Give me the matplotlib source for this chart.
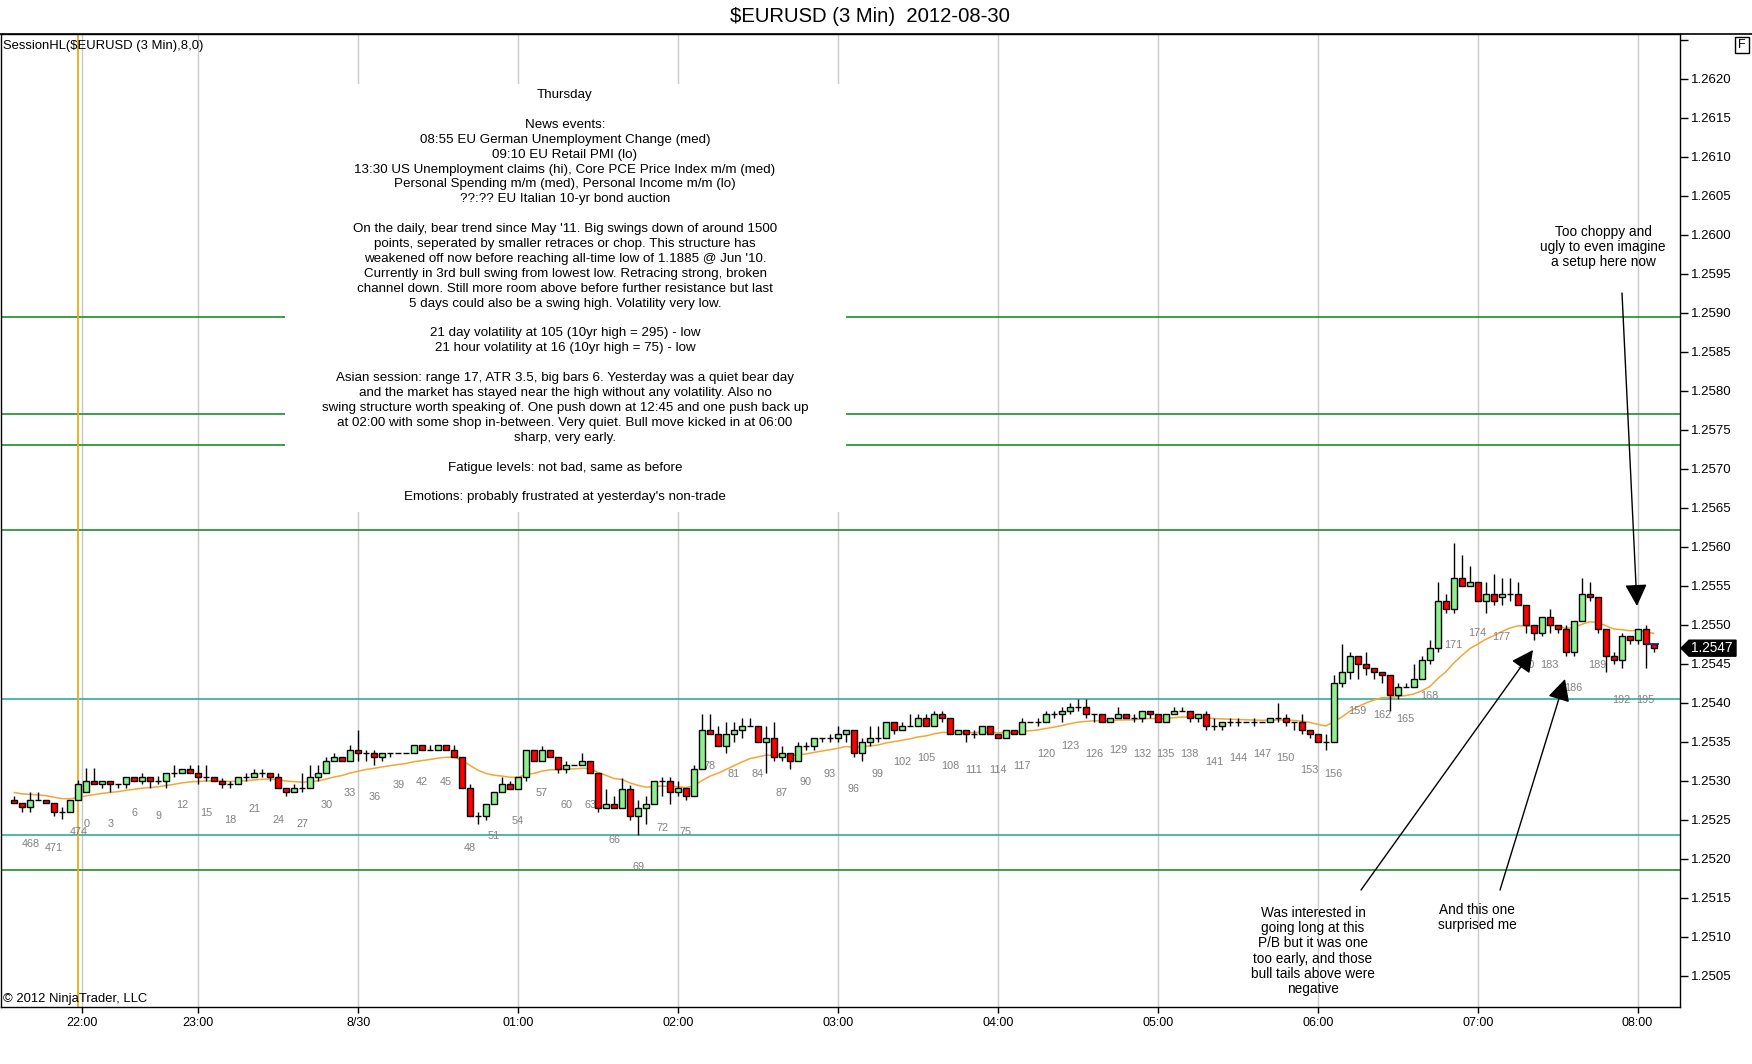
import numpy as np
import matplotlib
matplotlib.use("Agg")
import matplotlib.pyplot as plt
from matplotlib.patches import Rectangle, Polygon, FancyArrowPatch
from matplotlib.lines import Line2D
from matplotlib.transforms import IdentityTransform

plt.rcParams['font.family'] = ['Liberation Sans', 'DejaVu Sans']

# ---------------- data ----------------
bar_numbers = list(range(466, 475)) + list(range(0, 197))

open_ = [
    1.25276, 1.25271, 1.25266, 1.25276, 1.25276, 1.25271, 1.25260, 1.25260, 1.25276, 1.25286,
    1.25300, 1.25296, 1.25300, 1.25296, 1.25296, 1.25305, 1.25300, 1.25305, 1.25300, 1.25300,
    1.25310, 1.25310, 1.25315, 1.25310, 1.25305, 1.25305, 1.25300, 1.25296, 1.25296, 1.25305,
    1.25305, 1.25310, 1.25310, 1.25305, 1.25291, 1.25286, 1.25291, 1.25291, 1.25305, 1.25310,
    1.25325, 1.25330, 1.25325, 1.25340, 1.25335, 1.25335, 1.25330, 1.25335, 1.25335, 1.25335,
    1.25335, 1.25346, 1.25340, 1.25340, 1.25346, 1.25340, 1.25330, 1.25291, 1.25255, 1.25255,
    1.25270, 1.25286, 1.25296, 1.25290, 1.25305, 1.25340, 1.25325, 1.25340, 1.25330, 1.25315,
    1.25320, 1.25320, 1.25325, 1.25310, 1.25265, 1.25270, 1.25265, 1.25290, 1.25255, 1.25265,
    1.25270, 1.25300, 1.25300, 1.25286, 1.25291, 1.25280, 1.25315, 1.25365, 1.25360, 1.25345,
    1.25360, 1.25365, 1.25370, 1.25370, 1.25350, 1.25355, 1.25330, 1.25335, 1.25325, 1.25345,
    1.25345, 1.25355, 1.25355, 1.25355, 1.25360, 1.25365, 1.25335, 1.25350, 1.25355, 1.25355,
    1.25375, 1.25365, 1.25370, 1.25370, 1.25380, 1.25370, 1.25385, 1.25380, 1.25360, 1.25365,
    1.25360, 1.25360, 1.25370, 1.25360, 1.25355, 1.25365, 1.25360, 1.25375, 1.25375, 1.25375,
    1.25385, 1.25385, 1.25390, 1.25395, 1.25395, 1.25385, 1.25385, 1.25375, 1.25380, 1.25385,
    1.25380, 1.25380, 1.25390, 1.25385, 1.25375, 1.25385, 1.25390, 1.25390, 1.25380, 1.25385,
    1.25370, 1.25370, 1.25375, 1.25375, 1.25375, 1.25375, 1.25375, 1.25375, 1.25380, 1.25380,
    1.25375, 1.25375, 1.25365, 1.25360, 1.25350, 1.25350, 1.25425, 1.25440, 1.25460, 1.25450,
    1.25445, 1.25440, 1.25435, 1.25410, 1.25420, 1.25420, 1.25430, 1.25455, 1.25470, 1.25530,
    1.25520, 1.25560, 1.25550, 1.25555, 1.25530, 1.25540, 1.25535, 1.25540, 1.25540, 1.25525,
    1.25500, 1.25490, 1.25510, 1.25500, 1.25495, 1.25465, 1.25505, 1.25540, 1.25535, 1.25495,
    1.25460, 1.25455, 1.25485, 1.25480, 1.25495, 1.25475,
]
high = [
    1.25281, 1.25271, 1.25286, 1.25286, 1.25276, 1.25271, 1.25266, 1.25276, 1.25301, 1.25316,
    1.25316, 1.25300, 1.25300, 1.25296, 1.25305, 1.25305, 1.25310, 1.25305, 1.25306, 1.25310,
    1.25320, 1.25315, 1.25320, 1.25320, 1.25320, 1.25305, 1.25304, 1.25300, 1.25305, 1.25310,
    1.25315, 1.25315, 1.25310, 1.25310, 1.25291, 1.25296, 1.25310, 1.25320, 1.25320, 1.25330,
    1.25336, 1.25330, 1.25346, 1.25365, 1.25340, 1.25340, 1.25335, 1.25335, 1.25335, 1.25335,
    1.25346, 1.25346, 1.25346, 1.25346, 1.25346, 1.25346, 1.25330, 1.25296, 1.25260, 1.25270,
    1.25286, 1.25305, 1.25300, 1.25305, 1.25340, 1.25340, 1.25345, 1.25340, 1.25330, 1.25325,
    1.25320, 1.25336, 1.25325, 1.25310, 1.25290, 1.25280, 1.25304, 1.25295, 1.25275, 1.25280,
    1.25300, 1.25305, 1.25305, 1.25300, 1.25291, 1.25320, 1.25385, 1.25385, 1.25370, 1.25375,
    1.25375, 1.25380, 1.25380, 1.25370, 1.25370, 1.25375, 1.25345, 1.25335, 1.25350, 1.25350,
    1.25355, 1.25355, 1.25360, 1.25370, 1.25365, 1.25365, 1.25355, 1.25370, 1.25370, 1.25375,
    1.25375, 1.25375, 1.25385, 1.25385, 1.25385, 1.25390, 1.25390, 1.25380, 1.25365, 1.25365,
    1.25365, 1.25370, 1.25370, 1.25360, 1.25365, 1.25365, 1.25380, 1.25375, 1.25380, 1.25390,
    1.25390, 1.25395, 1.25400, 1.25405, 1.25405, 1.25385, 1.25385, 1.25380, 1.25395, 1.25385,
    1.25385, 1.25390, 1.25390, 1.25385, 1.25385, 1.25395, 1.25395, 1.25390, 1.25385, 1.25390,
    1.25380, 1.25375, 1.25380, 1.25380, 1.25375, 1.25380, 1.25375, 1.25380, 1.25400, 1.25385,
    1.25375, 1.25385, 1.25365, 1.25360, 1.25360, 1.25435, 1.25475, 1.25465, 1.25460, 1.25465,
    1.25445, 1.25440, 1.25435, 1.25425, 1.25425, 1.25450, 1.25460, 1.25480, 1.25555, 1.25540,
    1.25605, 1.25590, 1.25575, 1.25555, 1.25555, 1.25565, 1.25560, 1.25560, 1.25555, 1.25525,
    1.25500, 1.25510, 1.25520, 1.25500, 1.25500, 1.25505, 1.25560, 1.25555, 1.25535, 1.25495,
    1.25465, 1.25490, 1.25485, 1.25495, 1.25500, 1.25475,
]
low = [
    1.25271, 1.25260, 1.25260, 1.25275, 1.25271, 1.25255, 1.25251, 1.25260, 1.25276, 1.25286,
    1.25296, 1.25291, 1.25285, 1.25291, 1.25291, 1.25300, 1.25296, 1.25291, 1.25296, 1.25291,
    1.25305, 1.25310, 1.25310, 1.25296, 1.25300, 1.25300, 1.25291, 1.25291, 1.25296, 1.25300,
    1.25305, 1.25305, 1.25300, 1.25291, 1.25280, 1.25286, 1.25286, 1.25291, 1.25300, 1.25310,
    1.25325, 1.25325, 1.25325, 1.25325, 1.25325, 1.25320, 1.25325, 1.25330, 1.25335, 1.25335,
    1.25335, 1.25340, 1.25340, 1.25340, 1.25340, 1.25330, 1.25291, 1.25255, 1.25245, 1.25250,
    1.25270, 1.25286, 1.25290, 1.25290, 1.25300, 1.25325, 1.25325, 1.25330, 1.25310, 1.25310,
    1.25320, 1.25320, 1.25310, 1.25260, 1.25265, 1.25265, 1.25265, 1.25250, 1.25231, 1.25245,
    1.25270, 1.25280, 1.25270, 1.25280, 1.25275, 1.25280, 1.25315, 1.25360, 1.25345, 1.25335,
    1.25350, 1.25355, 1.25370, 1.25350, 1.25310, 1.25325, 1.25325, 1.25315, 1.25325, 1.25340,
    1.25340, 1.25350, 1.25350, 1.25350, 1.25350, 1.25330, 1.25325, 1.25345, 1.25350, 1.25355,
    1.25360, 1.25365, 1.25370, 1.25370, 1.25370, 1.25370, 1.25375, 1.25360, 1.25360, 1.25350,
    1.25355, 1.25360, 1.25360, 1.25355, 1.25355, 1.25360, 1.25360, 1.25375, 1.25370, 1.25375,
    1.25380, 1.25375, 1.25385, 1.25390, 1.25380, 1.25375, 1.25375, 1.25375, 1.25380, 1.25380,
    1.25375, 1.25375, 1.25380, 1.25375, 1.25375, 1.25385, 1.25390, 1.25375, 1.25375, 1.25365,
    1.25365, 1.25365, 1.25370, 1.25370, 1.25375, 1.25370, 1.25375, 1.25375, 1.25375, 1.25370,
    1.25365, 1.25360, 1.25355, 1.25350, 1.25340, 1.25350, 1.25420, 1.25430, 1.25430, 1.25435,
    1.25430, 1.25425, 1.25390, 1.25405, 1.25420, 1.25420, 1.25430, 1.25450, 1.25465, 1.25515,
    1.25515, 1.25550, 1.25550, 1.25530, 1.25515, 1.25525, 1.25525, 1.25530, 1.25525, 1.25490,
    1.25480, 1.25485, 1.25490, 1.25490, 1.25460, 1.25460, 1.25505, 1.25530, 1.25490, 1.25440,
    1.25450, 1.25445, 1.25475, 1.25475, 1.25445, 1.25465,
]
close = [
    1.25271, 1.25266, 1.25276, 1.25276, 1.25271, 1.25260, 1.25260, 1.25276, 1.25296, 1.25300,
    1.25296, 1.25300, 1.25296, 1.25296, 1.25305, 1.25300, 1.25305, 1.25300, 1.25300, 1.25310,
    1.25310, 1.25315, 1.25310, 1.25305, 1.25305, 1.25300, 1.25296, 1.25296, 1.25305, 1.25305,
    1.25310, 1.25310, 1.25305, 1.25291, 1.25286, 1.25291, 1.25291, 1.25305, 1.25310, 1.25325,
    1.25330, 1.25325, 1.25340, 1.25335, 1.25335, 1.25330, 1.25335, 1.25335, 1.25335, 1.25335,
    1.25346, 1.25340, 1.25340, 1.25346, 1.25340, 1.25330, 1.25291, 1.25255, 1.25255, 1.25270,
    1.25286, 1.25296, 1.25290, 1.25305, 1.25340, 1.25325, 1.25340, 1.25330, 1.25315, 1.25320,
    1.25320, 1.25325, 1.25310, 1.25265, 1.25270, 1.25265, 1.25290, 1.25255, 1.25265, 1.25270,
    1.25300, 1.25300, 1.25286, 1.25291, 1.25280, 1.25315, 1.25365, 1.25360, 1.25345, 1.25360,
    1.25365, 1.25370, 1.25370, 1.25350, 1.25355, 1.25330, 1.25335, 1.25325, 1.25345, 1.25345,
    1.25355, 1.25355, 1.25355, 1.25360, 1.25365, 1.25335, 1.25350, 1.25355, 1.25355, 1.25375,
    1.25365, 1.25370, 1.25370, 1.25380, 1.25370, 1.25385, 1.25380, 1.25360, 1.25365, 1.25360,
    1.25360, 1.25370, 1.25360, 1.25355, 1.25365, 1.25360, 1.25375, 1.25375, 1.25375, 1.25385,
    1.25385, 1.25390, 1.25395, 1.25395, 1.25385, 1.25385, 1.25375, 1.25380, 1.25385, 1.25380,
    1.25380, 1.25390, 1.25385, 1.25375, 1.25385, 1.25390, 1.25390, 1.25380, 1.25385, 1.25370,
    1.25370, 1.25375, 1.25375, 1.25375, 1.25375, 1.25375, 1.25375, 1.25380, 1.25380, 1.25375,
    1.25375, 1.25365, 1.25360, 1.25350, 1.25350, 1.25425, 1.25440, 1.25460, 1.25450, 1.25445,
    1.25440, 1.25435, 1.25410, 1.25420, 1.25420, 1.25430, 1.25455, 1.25470, 1.25530, 1.25520,
    1.25560, 1.25550, 1.25555, 1.25530, 1.25540, 1.25530, 1.25540, 1.25540, 1.25525, 1.25500,
    1.25490, 1.25510, 1.25500, 1.25495, 1.25465, 1.25505, 1.25540, 1.25535, 1.25495, 1.25460,
    1.25455, 1.25485, 1.25480, 1.25495, 1.25475, 1.25470,
]

ema_period = 20
ema_seed = 1.25285

green_levels = [1.25894, 1.25770, 1.25730, 1.25621, 1.25185]
teal_levels = [1.25405, 1.25230]

time_tick_bars = [-0.5, 14, 34, 54, 74, 94, 114, 134, 154, 174, 194]
time_tick_labels = ["22:00", "23:00", "8/30", "01:00", "02:00", "03:00",
                    "04:00", "05:00", "06:00", "07:00", "08:00"]
session_break_bar = -1
price_ticks = [1.2505 + 0.0005 * k for k in range(24)]

title = "$EURUSD (3 Min)  2012-08-30"
indicator_label = "SessionHL($EURUSD (3 Min),8,0)"
copyright_text = "\u00a9 2012 NinjaTrader, LLC"

notes = [
    "Thursday",
    "",
    "News events:",
    "08:55 EU German Unemployment Change (med)",
    "09:10 EU Retail PMI (lo)",
    "13:30 US Unemployment claims (hi), Core PCE Price Index m/m (med)",
    "Personal Spending m/m (med), Personal Income m/m (lo)",
    "??:?? EU Italian 10-yr bond auction",
    "",
    "On the daily, bear trend since May '11. Big swings down of around 1500",
    "points, seperated by smaller retraces or chop. This structure has",
    "weakened off now before reaching all-time low of 1.1885 @ Jun '10.",
    "Currently in 3rd bull swing from lowest low. Retracing strong, broken",
    "channel down. Still more room above before further resistance but last",
    "5 days could also be a swing high. Volatility very low.",
    "",
    "21 day volatility at 105 (10yr high = 295) - low",
    "21 hour volatility at 16 (10yr high = 75) - low",
    "",
    "Asian session: range 17, ATR 3.5, big bars 6. Yesterday was a quiet bear day",
    "and the market has stayed near the high without any volatility. Also no",
    "swing structure worth speaking of. One push down at 12:45 and one push back up",
    "at 02:00 with some shop in-between. Very quiet. Bull move kicked in at 06:00",
    "sharp, very early.",
    "",
    "Fatigue levels: not bad, same as before",
    "",
    "Emotions: probably frustrated at yesterday's non-trade",
]
note_choppy = ["Too choppy and", "ugly to even imagine", "a setup here now"]
note_interested = ["Was interested in", "going long at this", "P/B but it was one",
                   "too early, and those", "bull tails above were", "negative"]
note_surprised = ["And this one", "surprised me"]

# ---------------- figure ----------------
W, H = 1752, 1064
fig = plt.figure(figsize=(W / 100, H / 100), dpi=100)
fig.patch.set_facecolor("white")
ax_top, ax_bot, ax_right = 34.3, 1007, 1680
ax = fig.add_axes([0.0006, 1 - ax_bot / H, ax_right / W - 0.0006, (ax_bot - ax_top) / H])

O = np.array(open_)
Hh = np.array(high)
L = np.array(low)
C = np.array(close)
n_prev = sum(1 for b in bar_numbers if b > 300)
x = np.arange(len(bar_numbers)) - n_prev

# vertical grid
ax.set_xticks(time_tick_bars)
ax.set_xticklabels(time_tick_labels)
ax.grid(axis="x", color="#C8C8C8", lw=1)
ax.set_axisbelow(True)

# session HL lines
for lv in green_levels:
    ax.axhline(lv, color="#1E8C2A", lw=1.2, zorder=1.5)
for lv in teal_levels:
    ax.axhline(lv, color="#2BAE9E", lw=1.2, zorder=1.5)

# session break
ax.axvline(session_break_bar, color="#F2A818", lw=1.3, zorder=1.6)

# EMA
ema = np.empty(len(C))
ema[0] = ema_seed
alpha = 2.0 / (ema_period + 1)
for k in range(1, len(C)):
    ema[k] = ema[k - 1] + alpha * (C[k] - ema[k - 1])
ax.plot(x, ema, color="#F5A535", lw=1.1, zorder=2)

# candles
ax.vlines(x, L, Hh, color="black", lw=1, zorder=3)
colors = np.where(C > O, "#90EE90", np.where(C < O, "#FF0000", "black"))
ax.bar(x, np.abs(C - O), bottom=np.minimum(O, C), width=0.74, color=colors,
       edgecolor="black", linewidth=1, zorder=4)

# last price marker line over last bar
ax.hlines(O[-1], x[-1] - 0.9, x[-1] + 0.65, color="#1A2A8A", lw=1.3, zorder=5)

# bar numbers
for k, num in enumerate(bar_numbers):
    if num % 3 == 0:
        ax.annotate(str(num), xy=(x[k], L[k]), xytext=(0, -32), textcoords="offset pixels",
                    ha="center", va="center", fontsize=7.8, color="#808080")

# axes limits / ticks
ax.set_xlim(-10.66, 199.3)
ax.set_ylim(1.25010, 1.26257)
ax.yaxis.tick_right()
ax.set_yticks(price_ticks)
ax.set_yticklabels(["%.4f" % p for p in price_ticks])
ax.set_yticks([1.2625], minor=True)
ax.tick_params(axis="y", which="both", length=6, width=1, pad=2, labelsize=9.5, right=True, left=False)
ax.tick_params(axis="x", length=4, width=1, pad=3, labelsize=9)
for sp in ax.spines.values():
    sp.set_color("black")
    sp.set_linewidth(1)

# top frame line across whole width
fig.add_artist(Line2D([0, 1], [1 - ax_top / H] * 2, color="black", lw=1.2))

# title and corner texts
fig.text(870 / W, 1 - 16 / H, title, ha="center", va="center", fontsize=14.6, parse_math=False)
fig.text(3 / W, 1 - 46 / H, indicator_label, ha="left", va="center", fontsize=9.4, parse_math=False)
fig.text(3 / W, 1 - 999 / H, copyright_text, ha="left", va="center", fontsize=9.4)
fig.add_artist(Rectangle((1735, H - 53), 14, 16, transform=IdentityTransform(),
                         facecolor="white", edgecolor="black", lw=1, zorder=6))
fig.text(1742 / W, 1 - 45 / H, "F", ha="center", va="center", fontsize=9, zorder=7)

# white box behind notes
fig.add_artist(Rectangle((285 / W, 1 - 512 / H), 561 / W, 428 / H, transform=fig.transFigure,
                         facecolor="white", edgecolor="none", zorder=1))

def text_lines(lines, cx, top, step, size):
    for j, s in enumerate(lines):
        if s:
            fig.text(cx / W, 1 - (top + j * step) / H, s, ha="center", va="center",
                     fontsize=size, zorder=2)

text_lines(notes, 565, 95, 14.9, 9.6)
text_lines(note_choppy, 1603, 232, 15.2, 9.8)
text_lines(note_interested, 1313, 913, 15.2, 9.8)
text_lines(note_surprised, 1477, 909.5, 15.2, 9.8)

# arrows (figure pixels)
def arrow(start, tip):
    fig.add_artist(FancyArrowPatch(
        (start[0], H - start[1]), (tip[0], H - tip[1]), transform=IdentityTransform(),
        arrowstyle="-|>,head_length=0.75,head_width=0.38", mutation_scale=18,
        color="black", lw=1, shrinkA=0, shrinkB=0, zorder=6))

arrow((1622, 293), (1637, 606))
arrow((1361, 890), (1533, 650))
arrow((1500, 890), (1565, 679))

# price marker
yc = ax.transData.transform((0, C[-1]))[1]
fig.add_artist(Polygon([(1681, yc), (1689, yc + 8), (1736, yc + 8), (1736, yc - 8), (1689, yc - 8)],
                       closed=True, transform=IdentityTransform(), facecolor="black",
                       edgecolor="black", zorder=6))
fig.text(1712 / W, yc / H, "%.4f" % round(C[-1], 4), ha="center", va="center",
         fontsize=9.8, color="white", zorder=7)

fig.savefig("out.png", dpi=100)
